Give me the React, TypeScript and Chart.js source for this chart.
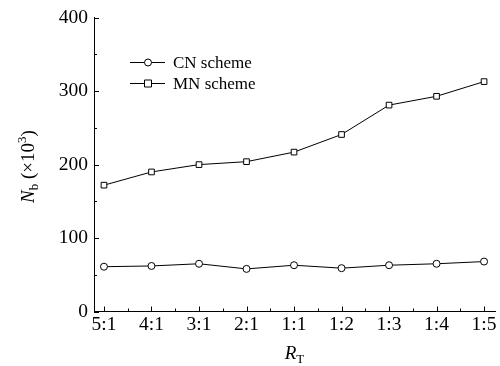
import React, { useEffect, useRef } from "react";
import { Chart, registerables } from "chart.js";
Chart.register(...registerables);

const categories = ["5:1", "4:1", "3:1", "2:1", "1:1", "1:2", "1:3", "1:4", "1:5"];
const cnValues = [61, 62, 65, 58, 63, 59, 63, 65, 68];
const mnValues = [172, 190, 200, 204, 217, 241, 281, 293, 313];
const seriesNames = ["CN scheme", "MN scheme"];
const yMin = 0;
const yMax = 400;

const FONT = "'Liberation Serif', 'Times New Roman', serif";

function drawRich(ctx: CanvasRenderingContext2D, parts: { t: string; f: string; dy: number }[], cx: number, baseY: number) {
  let total = 0;
  for (const p of parts) {
    ctx.font = p.f;
    total += ctx.measureText(p.t).width;
  }
  let x = cx - total / 2;
  for (const p of parts) {
    ctx.font = p.f;
    ctx.fillText(p.t, x, baseY + p.dy);
    x += ctx.measureText(p.t).width;
  }
}

const decorPlugin = {
  id: "decor",
  afterDraw(chart: any) {
    const ctx: CanvasRenderingContext2D = chart.ctx;
    const area = chart.chartArea;
    const xs = chart.scales.x;
    const ys = chart.scales.y;
    ctx.save();
    ctx.strokeStyle = "#000";
    ctx.lineWidth = 1;
    // x ticks (inward)
    for (let v = 0; v <= categories.length - 1 + 1e-9; v += 0.5) {
      const px = Math.round(xs.getPixelForValue(v)) + 0.5;
      const len = Number.isInteger(v) ? 5 : 3;
      ctx.beginPath();
      ctx.moveTo(px, area.bottom);
      ctx.lineTo(px, area.bottom - len);
      ctx.stroke();
    }
    // y ticks (inward)
    for (let v = yMin; v <= yMax; v += 50) {
      const py = Math.round(ys.getPixelForValue(v)) + 0.5;
      const len = v % 100 === 0 ? 5 : 3;
      ctx.beginPath();
      ctx.moveTo(area.left, py);
      ctx.lineTo(area.left + len, py);
      ctx.stroke();
    }
    ctx.fillStyle = "#000";
    ctx.textBaseline = "alphabetic";
    ctx.textAlign = "left";
    // x title
    const xc = (area.left + area.right) / 2;
    drawRich(ctx, [
      { t: "R", f: `italic 19px ${FONT}`, dy: 0 },
      { t: "T", f: `13px ${FONT}`, dy: 4 },
    ], xc, 359);
    // y title
    ctx.save();
    ctx.translate(34, (area.top + area.bottom) / 2 + 2);
    ctx.rotate(-Math.PI / 2);
    drawRich(ctx, [
      { t: "N", f: `italic 19px ${FONT}`, dy: 0 },
      { t: "b", f: `13px ${FONT}`, dy: 4 },
      { t: " (×10", f: `19px ${FONT}`, dy: 0 },
      { t: "3", f: `13px ${FONT}`, dy: -8 },
      { t: ")", f: `19px ${FONT}`, dy: 0 },
    ], 0, 0);
    ctx.restore();
    // legend
    const styles = ["circle", "rect"];
    for (let i = 0; i < seriesNames.length; i++) {
      const ly = 62.5 + 21 * i;
      ctx.beginPath();
      ctx.moveTo(130, ly);
      ctx.lineTo(165, ly);
      ctx.stroke();
      ctx.fillStyle = "#fff";
      ctx.beginPath();
      if (styles[i] === "circle") {
        ctx.arc(148, ly, 3.5, 0, Math.PI * 2);
      } else {
        ctx.rect(144.5, ly - 3.5, 7, 7);
      }
      ctx.fill();
      ctx.stroke();
      ctx.fillStyle = "#000";
      ctx.font = `17px ${FONT}`;
      ctx.textBaseline = "middle";
      ctx.fillText(seriesNames[i], 173, ly + 1);
    }
    ctx.restore();
  },
};

export default function App() {
  const ref = useRef<HTMLCanvasElement | null>(null);
  useEffect(() => {
    if (!ref.current) return;
    const mk = (vals: number[]) => vals.map((v, i) => ({ x: i, y: v }));
    const chart = new Chart(ref.current, {
      type: "line",
      data: {
        datasets: [
          {
            label: seriesNames[0],
            data: mk(cnValues),
            borderColor: "#000",
            borderWidth: 1,
            pointStyle: "circle",
            pointRadius: 3.5,
            pointBackgroundColor: "#fff",
            pointBorderColor: "#000",
            pointBorderWidth: 1,
            tension: 0,
          },
          {
            label: seriesNames[1],
            data: mk(mnValues),
            borderColor: "#000",
            borderWidth: 1,
            pointStyle: "rect",
            pointRadius: 4,
            pointBackgroundColor: "#fff",
            pointBorderColor: "#000",
            pointBorderWidth: 1,
            tension: 0,
          },
        ],
      },
      options: {
        responsive: false,
        animation: false,
        layout: { padding: { top: 17, right: 5, left: 0, bottom: 0 } },
        plugins: { legend: { display: false }, tooltip: { enabled: false } },
        scales: {
          x: {
            type: "linear",
            min: -0.21,
            max: categories.length - 1 + 0.23,
            afterFit: (s: any) => { s.height = 54.5; },
            afterBuildTicks: (s: any) => {
              s.ticks = categories.map((_, i) => ({ value: i }));
            },
            ticks: {
              callback: (v: any) => categories[Math.round(Number(v))] ?? "",
              color: "#000",
              font: { family: FONT, size: 19.5 },
              padding: 2,
              maxRotation: 0,
              autoSkip: false,
            },
            grid: { display: false, drawTicks: false },
            border: { display: true, color: "#000", width: 1 },
          },
          y: {
            type: "linear",
            min: yMin,
            max: yMax,
            afterFit: (s: any) => { s.width = 94; },
            ticks: {
              stepSize: 100,
              color: "#000",
              font: { family: FONT, size: 19.5 },
              padding: 6,
            },
            grid: { display: false, drawTicks: false },
            border: { display: true, color: "#000", width: 1 },
          },
        },
      },
      plugins: [decorPlugin],
    } as any);
    return () => chart.destroy();
  }, []);
  return (
    <div style={{ position: "absolute", left: 0, top: 0, width: 500, height: 366, background: "#fff" }}>
      <canvas ref={ref} width={500} height={366} />
    </div>
  );
}
